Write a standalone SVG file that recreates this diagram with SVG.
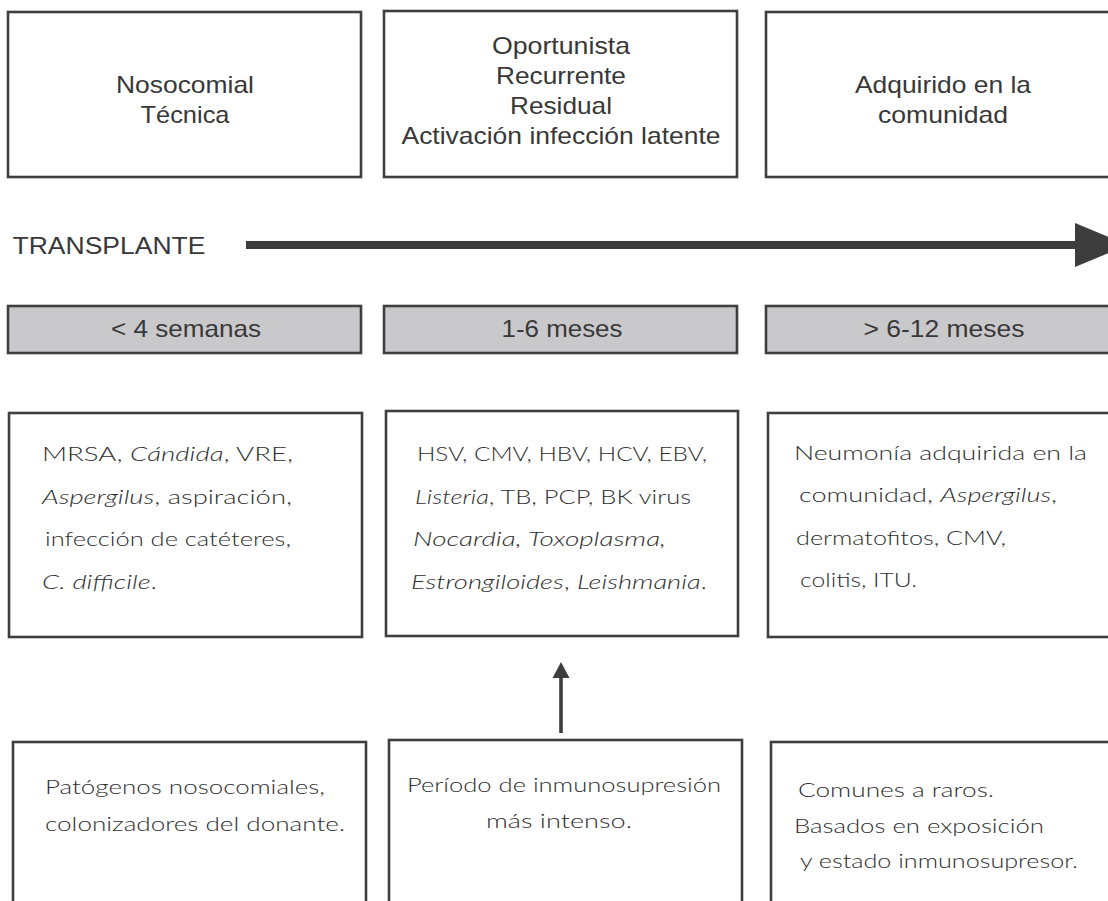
<svg xmlns="http://www.w3.org/2000/svg" width="1108" height="901" viewBox="0 0 1108 901">
<defs>
<style>
.box{fill:#ffffff;stroke:#3f3f3f;stroke-width:2.6}
.bar{fill:#c9c9cb;stroke:#3f3f3f;stroke-width:2.6}
.h{font-family:"Liberation Sans",Arial,sans-serif;font-size:24px;fill:#383838}
.b{font-family:Lato,"Open Sans",sans-serif;font-size:20px;font-weight:300;fill:#2e2e2e}
.i{font-style:italic}
.line{stroke:#3d3d3d;fill:none}
.head{fill:#3d3d3d}
</style>
</defs>
<rect width="1108" height="901" fill="#ffffff"/>

<g id="top-nosocomial">
<rect class="box" x="8" y="12" width="353" height="165"/>
<text class="h" x="185" y="93" text-anchor="middle" textLength="138" lengthAdjust="spacingAndGlyphs">Nosocomial</text>
<text class="h" x="185" y="123" text-anchor="middle" textLength="89" lengthAdjust="spacingAndGlyphs">Técnica</text>
</g>
<g id="top-oportunista">
<rect class="box" x="384" y="11" width="353" height="166"/>
<text class="h" x="561" y="54" text-anchor="middle" textLength="138" lengthAdjust="spacingAndGlyphs">Oportunista</text>
<text class="h" x="561" y="84" text-anchor="middle" textLength="130" lengthAdjust="spacingAndGlyphs">Recurrente</text>
<text class="h" x="561" y="114" text-anchor="middle" textLength="102" lengthAdjust="spacingAndGlyphs">Residual</text>
<text class="h" x="561" y="144" text-anchor="middle" textLength="319" lengthAdjust="spacingAndGlyphs">Activación infección latente</text>
</g>
<g id="top-comunidad">
<rect class="box" x="766" y="12" width="360" height="165"/>
<text class="h" x="943" y="93" text-anchor="middle" textLength="176" lengthAdjust="spacingAndGlyphs">Adquirido en la</text>
<text class="h" x="943" y="123" text-anchor="middle" textLength="130" lengthAdjust="spacingAndGlyphs">comunidad</text>
</g>

<g id="transplante">
<text class="h" x="12.5" y="254" textLength="193" lengthAdjust="spacingAndGlyphs">TRANSPLANTE</text>
</g>

<g id="bar-4-semanas">
<rect class="bar" x="8" y="306" width="353" height="47"/>
<text class="h" x="186" y="337" text-anchor="middle" textLength="150" lengthAdjust="spacingAndGlyphs">&lt; 4 semanas</text>
</g>
<g id="bar-1-6-meses">
<rect class="bar" x="384" y="306" width="353" height="47"/>
<text class="h" x="562" y="337" text-anchor="middle" textLength="121" lengthAdjust="spacingAndGlyphs">1-6 meses</text>
</g>
<g id="bar-6-12-meses">
<rect class="bar" x="766" y="306" width="360" height="47"/>
<text class="h" x="944" y="337" text-anchor="middle" textLength="161" lengthAdjust="spacingAndGlyphs">&gt; 6-12 meses</text>
</g>

<g id="pathogens-early">
<rect class="box" x="9" y="413" width="353" height="224"/>
<text class="b" x="42" y="461" textLength="251" lengthAdjust="spacingAndGlyphs">MRSA, <tspan class="i">Cándida</tspan>, VRE,</text>
<text class="b" x="42" y="504" textLength="250" lengthAdjust="spacingAndGlyphs"><tspan class="i">Aspergilus</tspan>, aspiración,</text>
<text class="b" x="45" y="546" textLength="246" lengthAdjust="spacingAndGlyphs">infección de catéteres,</text>
<text class="b" x="42" y="589" textLength="115" lengthAdjust="spacingAndGlyphs"><tspan class="i">C. difficile</tspan>.</text>
</g>
<g id="pathogens-middle">
<rect class="box" x="386" y="411" width="352" height="225"/>
<text class="b" x="417" y="461" textLength="290" lengthAdjust="spacingAndGlyphs">HSV, CMV, HBV, HCV, EBV,</text>
<text class="b" x="415" y="504" textLength="276" lengthAdjust="spacingAndGlyphs"><tspan class="i">Listeria</tspan>, TB, PCP, BK virus</text>
<text class="b" x="413" y="546" textLength="253" lengthAdjust="spacingAndGlyphs"><tspan class="i">Nocardia, Toxoplasma,</tspan></text>
<text class="b" x="411" y="589" textLength="296" lengthAdjust="spacingAndGlyphs"><tspan class="i">Estrongiloides</tspan>, <tspan class="i">Leishmania</tspan>.</text>
</g>
<g id="pathogens-late">
<rect class="box" x="768" y="413" width="360" height="224"/>
<text class="b" x="794" y="460" textLength="293" lengthAdjust="spacingAndGlyphs">Neumonía adquirida en la</text>
<text class="b" x="799" y="502" textLength="258" lengthAdjust="spacingAndGlyphs">comunidad, <tspan class="i">Aspergilus</tspan>,</text>
<text class="b" x="796" y="545" textLength="210" lengthAdjust="spacingAndGlyphs">dermatofitos, CMV,</text>
<text class="b" x="800" y="587" textLength="117" lengthAdjust="spacingAndGlyphs">colitis, ITU.</text>
</g>

<g id="note-early">
<rect class="box" x="13" y="742" width="353" height="175"/>
<text class="b" x="45" y="794" textLength="280" lengthAdjust="spacingAndGlyphs">Patógenos nosocomiales,</text>
<text class="b" x="45" y="831" textLength="300" lengthAdjust="spacingAndGlyphs">colonizadores del donante.</text>
</g>
<g id="note-middle">
<rect class="box" x="389" y="740" width="353" height="175"/>
<text class="b" x="564" y="792" text-anchor="middle" textLength="314" lengthAdjust="spacingAndGlyphs">Período de inmunosupresión</text>
<text class="b" x="559" y="828" text-anchor="middle" textLength="146" lengthAdjust="spacingAndGlyphs">más intenso.</text>
</g>
<g id="note-late">
<rect class="box" x="771" y="742" width="360" height="175"/>
<text class="b" x="798" y="797" textLength="196" lengthAdjust="spacingAndGlyphs">Comunes a raros.</text>
<text class="b" x="794" y="833" textLength="250" lengthAdjust="spacingAndGlyphs">Basados en exposición</text>
<text class="b" x="800" y="868" textLength="278" lengthAdjust="spacingAndGlyphs">y estado inmunosupresor.</text>
</g>

<g id="connectors">
<line class="line" x1="246" y1="245" x2="1078" y2="245" stroke-width="8"/>
<polygon class="head" points="1075,223 1128,245 1075,267"/>
<line class="line" x1="561" y1="733" x2="561" y2="674" stroke-width="3.6"/>
<polygon class="head" points="561,662 552.5,678 569.5,678"/>
</g>
</svg>
